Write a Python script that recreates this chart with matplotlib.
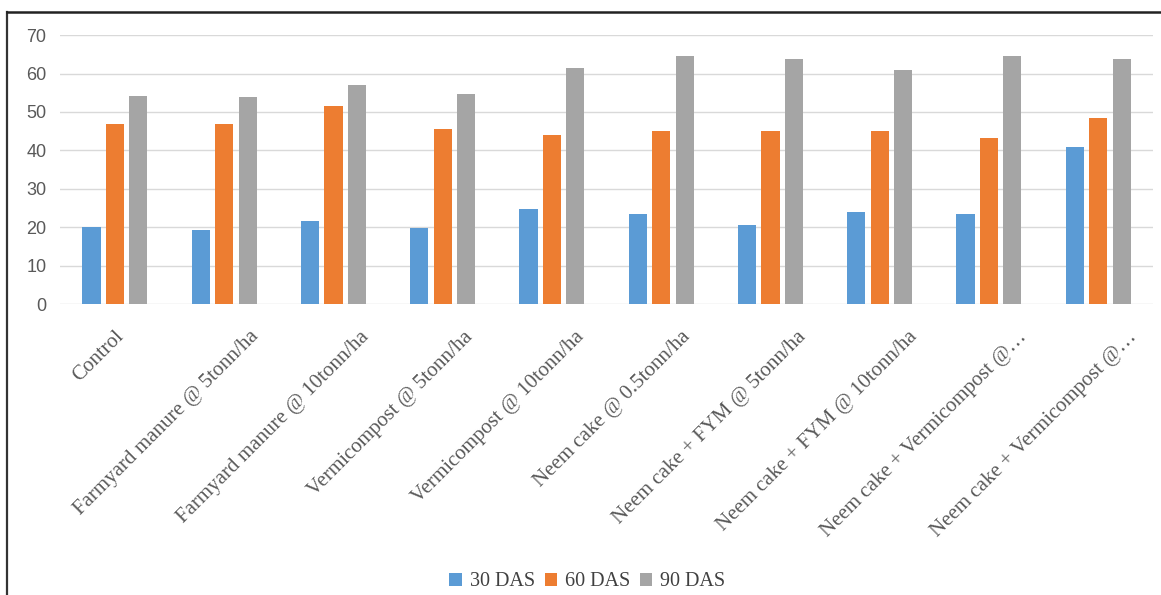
import numpy as np
import matplotlib.pyplot as plt
from matplotlib.lines import Line2D
from matplotlib.transforms import offset_copy

# treatments and plant height readings at three growth stages
treatments = [
    'Control',
    'Farmyard manure @ 5tonn/ha',
    'Farmyard manure @ 10tonn/ha',
    'Vermicompost @ 5tonn/ha',
    'Vermicompost @ 10tonn/ha',
    'Neem cake @ 0.5tonn/ha',
    'Neem cake + FYM @ 5tonn/ha',
    'Neem cake + FYM @ 10tonn/ha',
    'Neem cake + Vermicompost @\u2026',
    'Neem cake + Vermicompost @\u2026',
]
das_30 = [20.1, 19.3, 21.6, 19.8, 24.8, 23.4, 20.6, 24.0, 23.4, 40.8]
das_60 = [46.9, 46.9, 51.6, 45.5, 44.0, 45.1, 45.1, 45.1, 43.1, 48.4]
das_90 = [54.2, 53.8, 57.1, 54.8, 61.4, 64.6, 63.7, 60.9, 64.6, 63.7]
series_names = ['30 DAS', '60 DAS', '90 DAS']

colors = ['#5b9bd5', '#ed7d31', '#a5a5a5']
serif = ['Liberation Serif', 'DejaVu Serif']

fig = plt.figure(figsize=(11.61, 5.95), dpi=100)
ax = fig.add_axes([0.052, 0.489, 0.941, 0.452])

x = np.arange(len(treatments))
width = 0.165
offsets = [-0.215, 0.0, 0.215]
for vals, off, col, name in zip([das_30, das_60, das_90], offsets, colors, series_names):
    ax.bar(x + off, vals, width, color=col, label=name, zorder=3)

ax.set_xlim(-0.5, len(treatments) - 0.5)
ax.set_ylim(0, 70)
ax.set_yticks(range(0, 71, 10))
ax.grid(axis='y', color='#d9d9d9', linewidth=1, zorder=0)
for s in ax.spines.values():
    s.set_visible(False)
ax.tick_params(axis='both', length=0)
ax.tick_params(axis='y', labelsize=13, labelcolor='#595959', pad=10)
for lbl in ax.get_yticklabels():
    lbl.set_family('Liberation Sans')

# category labels: rotated, tops aligned under the axis, longer ones pushed right a bit
ax.set_xticks(x)
ax.set_xticklabels([])
base = ax.get_xaxis_transform()
labels = []
for i, name in enumerate(treatments):
    t = ax.text(i, 0, name, transform=offset_copy(base, fig=fig, x=-6, y=-30, units='dots'),
                rotation=45, ha='right', va='center', rotation_mode='anchor',
                family=serif, fontsize=15, color='#595959')
    labels.append(t)

fig.canvas.draw()
renderer = fig.canvas.get_renderer()
for i, t in enumerate(labels):
    w = t.get_window_extent(renderer).width
    shift = 0.19 * w - 5
    t.set_transform(offset_copy(base, fig=fig, x=shift, y=-30, units='dots'))

leg = fig.legend(loc='center', bbox_to_anchor=(0.506, 0.022), ncol=3, frameon=False,
                 prop={'family': serif, 'size': 14.5}, handlelength=0.6, handleheight=0.6,
                 handletextpad=0.4, columnspacing=0.5)
for t in leg.get_texts():
    t.set_color('#404040')

# outer frame (left and top edges)
fig.add_artist(Line2D([0.006, 0.006], [0.0, 0.98], color='#333333', linewidth=1.6))
fig.add_artist(Line2D([0.006, 1.0], [0.98, 0.98], color='#222222', linewidth=1.8))

fig.savefig('out.png', dpi=100, facecolor='white')
